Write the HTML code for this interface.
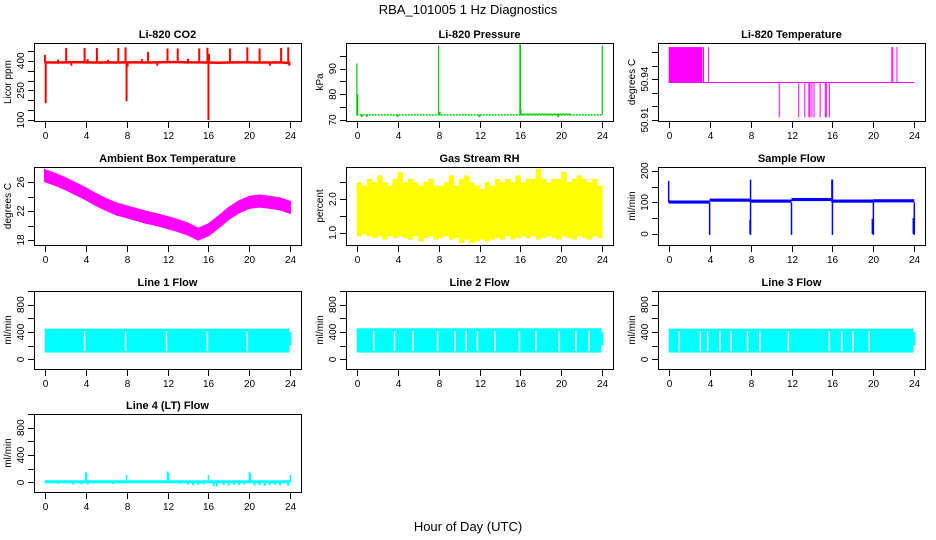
<!DOCTYPE html>
<html><head><meta charset="utf-8"><style>
html,body{margin:0;padding:0;background:#fff;}
svg{display:block;font-family:"Liberation Sans",Arial,sans-serif;}
</style></head><body>
<svg id="chart" width="936" height="540" viewBox="0 0 936 540" xmlns="http://www.w3.org/2000/svg">
<rect width="936" height="540" fill="#fff"/>
<text x="468" y="14" text-anchor="middle" font-size="13">RBA_101005  1 Hz Diagnostics</text>
<text x="468" y="531" text-anchor="middle" font-size="13">Hour of Day (UTC)</text>
</svg>
<script>
// ---------- data ----------
var xTicks=[0,4,8,12,16,20,24];
// CO2
var co2Hours=[0,1,2,3,4,5,6,7,8,9,10,11,12,13,14,15,16,17,18,19,20,21,22,23,24];
var co2Base=[392,391,392,393,392,391,392,391,392,392,391,392,393,393,392,392,391,390,391,392,392,391,391,392,388];
var co2SpikeHours=[0.02,0.1,1.3,2.1,2.6,3.9,4.2,5.1,6.2,7.2,7.9,8.0,8.1,9.5,10.1,11.0,12.0,13.0,14.0,15.1,15.9,16.0,16.05,18.1,19.8,21.0,22.0,23.1,23.8,23.9];
var co2SpikeVals=[430,185,405,465,375,465,408,465,405,465,468,195,370,408,445,375,462,462,410,462,466,100,435,462,468,462,375,465,468,375];
// Pressure
var presBase=72.0;
var presSpikeHours=[0.02,0.1,8.0,15.95,16.0,16.05,24.0];
var presSpikeVals=[92,80,99,99.8,99.2,74,99];
var presDipHours=[0.5,1.0,4.0,12.0,19.7,8.1];
var presDipVals=[71.2,71.3,71.2,71.2,71.2,73];
// Li-820 temperature
var ltBase=50.9375;
var ltBlock=[0,3.3,50.9635];
var ltUpHours=[3.4,3.9,21.8,21.9,22.3];
var ltUpVal=50.9635;
var ltDownHours=[10.8,12.7,13.3,13.7,13.8,14.0,14.2,14.8,15.3,15.4,15.7];
var ltDownVal=50.912;
// Ambient
var ambHours=[0,1,2,3,4,5,6,7,8,9,10,11,12,13,14,15,16,17,18,19,20,21,22,23,24];
var ambMid=[26.9,26.4,25.8,25.1,24.4,23.6,22.9,22.3,21.9,21.5,21.1,20.8,20.4,20.0,19.5,18.8,19.4,20.5,21.7,22.6,23.2,23.4,23.2,23.0,22.5];
var ambHalf=0.8;
// Gas stream RH (48 half-hour bins)
var rhHi=[2.5,2.4,2.6,2.5,2.7,2.5,2.4,2.6,2.8,2.5,2.6,2.5,2.4,2.5,2.6,2.4,2.4,2.5,2.7,2.4,2.6,2.7,2.5,2.4,2.3,2.5,2.4,2.6,2.5,2.6,2.5,2.7,2.5,2.6,2.6,2.9,2.6,2.5,2.6,2.6,2.8,2.5,2.6,2.7,2.6,2.5,2.6,2.4];
var rhLo=[0.9,0.95,0.9,0.85,0.9,0.8,0.9,0.85,0.9,0.85,0.8,0.9,0.75,0.85,0.9,0.8,0.85,0.9,0.8,0.85,0.7,0.8,0.7,0.75,0.8,0.75,0.8,0.85,0.8,0.9,0.8,0.85,0.9,0.85,0.9,0.8,0.85,0.9,0.85,0.8,0.9,0.85,0.8,0.9,0.85,0.8,0.9,0.85];
// Sample flow
var sfBase=[[0,4,102],[4,8,108],[8,12,105],[12,16,110],[16,20,105],[20,24,106]];
var sfDropHours=[4,8,12,16,20,24];
var sfDropVals=[-3,-3,-3,-3,-3,-3];
var sfSpikeHours=[0,7.95,8.0,15.95,16.0,19.9,23.9];
var sfSpikeVals=[168,45,172,172,172,48,50];
// Line flows
var lineLo=[100,100,100];
var lineHi=[450,455,450];
var line1Gaps=[3.9,7.9,11.9,15.9,19.8];
var line2Gaps=[1.66,3.7,5.5,7.9,9.6,10.7,11.8,13.5,15.9,17.5,19.8,21.4,22.7];
var line3Gaps=[1.04,3.1,3.8,5.0,6.1,7.7,8.9,11.7,15.7,16.9,18.0,19.6];
var line4Base=10;
var line4SpikeHours=[4,4.1,8,12,12.1,16,20,20.1,24];
var line4SpikeVals=[150,130,110,160,140,110,150,130,110];
var line4DipHours=[1.3,2.8,3.6,4.2,6.7,13.2,14,14.5,15,15.5,16.5,16.8,17.5,18,18.5,19,19.5,20.5,21,21.5,22,22.5,23,23.8];
var line4DipVals=[-20,-30,-30,-30,-25,-20,-30,-40,-35,-30,-50,-60,-40,-45,-35,-40,-30,-45,-40,-50,-40,-35,-45,-50];

// ---------- layout ----------
var NS="http://www.w3.org/2000/svg";
var svg=document.getElementById('chart');
var colX=[34,346,658], rowY=[43,167,291,414], W=267, H=78;
function mk(tag,attrs,parent){var e=document.createElementNS(NS,tag);for(var k in attrs)e.setAttribute(k,attrs[k]);(parent||svg).appendChild(e);return e;}
function Panel(c,r,dom,title,ytitle,yticks,ylabels,name){
  var p={x0:colX[c],y0:rowY[r],dom:dom};
  p.g=mk('g',{});
  
  
  p.xs=function(h){return p.x0+W*0.04+W*0.92*h/24;};
  p.ys=function(v){return p.y0+H-(v-dom[0])/(dom[1]-dom[0])*H;};
  var clip=mk('clipPath',{id:'clip'+name},p.g);
  mk('rect',{x:p.x0,y:p.y0,width:W,height:H},clip);
  p.data=mk('g',{'clip-path':'url(#clip'+name+')'},p.g);
  
  
  p.finish=function(){
    var b=mk('rect',{x:p.x0+0.5,y:p.y0+0.5,width:W,height:H,fill:'none',stroke:'#000','stroke-width':1},p.g);
    
    
    var t=mk('text',{x:p.x0+W/2,y:p.y0-5,'text-anchor':'middle','font-size':11,'font-weight':'bold'},p.g);
    t.textContent=title;
    
    
    var xa=mk('g',{},p.g);
    
    
    xTicks.forEach(function(h){
      var x=Math.round(p.xs(h))+0.5;
      mk('line',{x1:x,x2:x,y1:p.y0+H,y2:p.y0+H+7,stroke:'#000'},xa);
      var tl=mk('text',{x:x,y:p.y0+H+18,'text-anchor':'middle','font-size':10},xa);
      tl.textContent=h;
    });
    var ya=mk('g',{},p.g);
    
    
    yticks.forEach(function(v){
      var y=Math.round(p.ys(v))+0.5;
      mk('line',{x1:p.x0-6,x2:p.x0,y1:y,y2:y,stroke:'#000'},ya);
    });
    ylabels.forEach(function(lab){
      var y=p.ys(parseFloat(lab));
      var tl=mk('text',{x:0,y:0,'text-anchor':'middle','font-size':10,transform:'translate('+(p.x0-10)+','+y+') rotate(-90)'},ya);
      tl.textContent=lab;
    });
    var yt=mk('text',{x:0,y:0,'text-anchor':'middle','font-size':10,transform:'translate('+(p.x0-23)+','+(p.y0+H/2)+') rotate(-90)'},ya);
    yt.textContent=ytitle;
    
    
  };
  return p;
}
function vline(p,h,v1,v2,color,w,nm){
  var x=p.xs(h);
  var l=mk('line',{x1:x,x2:x,y1:p.ys(v1),y2:p.ys(v2),stroke:color,'stroke-width':w||1},p.data);
  
  
  return l;
}

// ---------- CO2 ----------
(function(){
  var p=Panel(0,0,[95,490],'Li-820 CO2','Licor ppm',[100,150,200,250,300,350,400,450],['100','250','400'],'co2');
  var pts=co2Hours.map(function(h,i){return p.xs(h)+','+p.ys(co2Base[i]);}).join(' ');
  var pl=mk('polyline',{points:pts,fill:'none',stroke:'#f00','stroke-width':2.5},p.data);
  
  
  co2SpikeHours.forEach(function(h,i){vline(p,h,392,co2SpikeVals[i],'#f00',2,'co2-spike');});
  p.finish();
})();
// ---------- Pressure ----------
(function(){
  var p=Panel(1,0,[69.6,100],'Li-820 Pressure','kPa',[70,75,80,85,90,95],['70','80','90'],'pressure');
  var l=mk('line',{x1:p.xs(0),x2:p.xs(24),y1:p.ys(presBase),y2:p.ys(presBase),stroke:'#0c0','stroke-width':1.5,'stroke-dasharray':'2,1'},p.data);
  
  
  var l2=mk('line',{x1:p.xs(16),x2:p.xs(21),y1:p.ys(72.3),y2:p.ys(72.3),stroke:'#0c0','stroke-width':1.5,'stroke-dasharray':'2,1'},p.data);
  
  
  presSpikeHours.forEach(function(h,i){vline(p,h,presBase,presSpikeVals[i],'#0c0',1.2,'pressure-spike');});
  presDipHours.forEach(function(h,i){vline(p,h,presBase,presDipVals[i],'#0c0',2,'pressure-dip');});
  p.finish();
})();
// ---------- Li-820 Temperature ----------
(function(){
  var p=Panel(2,0,[50.9093,50.9665],'Li-820 Temperature','degrees C',[50.91,50.92,50.93,50.94,50.95,50.96],['50.91','50.94'],'licor-temp');
  var r=mk('rect',{x:p.xs(ltBlock[0]),y:p.ys(ltBlock[2]),width:p.xs(ltBlock[1])-p.xs(ltBlock[0]),height:p.ys(ltBase)-p.ys(ltBlock[2]),fill:'#f0f'},p.data);
  
  
  var l=mk('line',{x1:p.xs(0),x2:p.xs(24),y1:p.ys(ltBase),y2:p.ys(ltBase),stroke:'#f0f','stroke-width':1},p.data);
  
  
  ltUpHours.forEach(function(h){vline(p,h,ltBase,ltUpVal,'#f0f',1,'licor-temp-spike-up');});
  ltDownHours.forEach(function(h){vline(p,h,ltBase,ltDownVal,'#f0f',1,'licor-temp-spike-down');});
  p.finish();
})();
// ---------- Ambient ----------
(function(){
  var p=Panel(0,1,[17.3,28.1],'Ambient Box Temperature','degrees C',[18,20,22,24,26],['18','22','26'],'ambient');
  var top=ambHours.map(function(h,i){return p.xs(h)+','+p.ys(ambMid[i]+ambHalf);});
  var bot=ambHours.map(function(h,i){return p.xs(h)+','+p.ys(ambMid[i]-ambHalf);}).reverse();
  var pg=mk('polygon',{points:top.concat(bot).join(' '),fill:'#f0f',stroke:'#f0f','stroke-width':1.5},p.data);
  
  
  p.finish();
})();
// ---------- RH ----------
(function(){
  var p=Panel(1,1,[0.64,2.95],'Gas Stream RH','percent',[1,1.5,2,2.5],['1.0','2.0'],'rh');
  rhHi.forEach(function(v,i){
    var h0=i*0.5,h1=(i+1)*0.5;
    var r=mk('rect',{x:p.xs(h0),y:p.ys(v),width:p.xs(h1)-p.xs(h0)+0.3,height:p.ys(rhLo[i])-p.ys(v),fill:'#ff0'},p.data);
    
    
  });
  p.finish();
})();
// ---------- Sample Flow ----------
(function(){
  var p=Panel(2,1,[-35,212],'Sample Flow','ml/min',[0,50,100,150,200],['0','100','200'],'sample-flow');
  sfBase.forEach(function(s){
    var r=mk('rect',{x:p.xs(s[0]),y:p.ys(s[2]+4),width:p.xs(s[1])-p.xs(s[0]),height:p.ys(s[2]-6)-p.ys(s[2]+4),fill:'#00f'},p.data);
    
    
  });
  sfDropHours.forEach(function(h,i){vline(p,h,100,sfDropVals[i],'#00f',1.5,'sample-flow-drop');});
  sfSpikeHours.forEach(function(h,i){vline(p,h,sfSpikeVals[i]>100?100:0,sfSpikeVals[i],'#00f',1.5,'sample-flow-spike');});
  p.finish();
})();
// ---------- Line flows ----------
function linePanel(c,r,idx,title,gaps,name){
  var p=Panel(c,r,[-140,1000],title,'ml/min',[0,200,400,600,800,1000],['0','400','800'],name);
  var b=mk('rect',{x:p.xs(0),y:p.ys(lineHi[idx]),width:p.xs(23.9)-p.xs(0),height:p.ys(lineLo[idx])-p.ys(lineHi[idx]),fill:'#0ff'},p.data);
  
  
  vline(p,24,200,400,'#0ff',2,name+'-end');
  gaps.forEach(function(h){vline(p,h,lineHi[idx]-40,lineLo[idx]+20,'#fff',1.5,name+'-gap');});
  p.finish();
}
linePanel(0,2,0,'Line 1 Flow',line1Gaps,'line1-flow');
linePanel(1,2,1,'Line 2 Flow',line2Gaps,'line2-flow');
linePanel(2,2,2,'Line 3 Flow',line3Gaps,'line3-flow');
(function(){
  var p=Panel(0,3,[-140,1000],'Line 4 (LT) Flow','ml/min',[0,200,400,600,800,1000],['0','400','800'],'line4-flow');
  var l=mk('line',{x1:p.xs(0),x2:p.xs(24),y1:p.ys(line4Base),y2:p.ys(line4Base),stroke:'#0ff','stroke-width':3},p.data);
  
  
  line4SpikeHours.forEach(function(h,i){vline(p,h,line4Base,line4SpikeVals[i],'#0ff',1.5,'line4-flow-spike');});
  line4DipHours.forEach(function(h,i){vline(p,h,line4Base,line4DipVals[i],'#0ff',2,'line4-flow-dip');});
  p.finish();
})();
</script>
</body></html>
